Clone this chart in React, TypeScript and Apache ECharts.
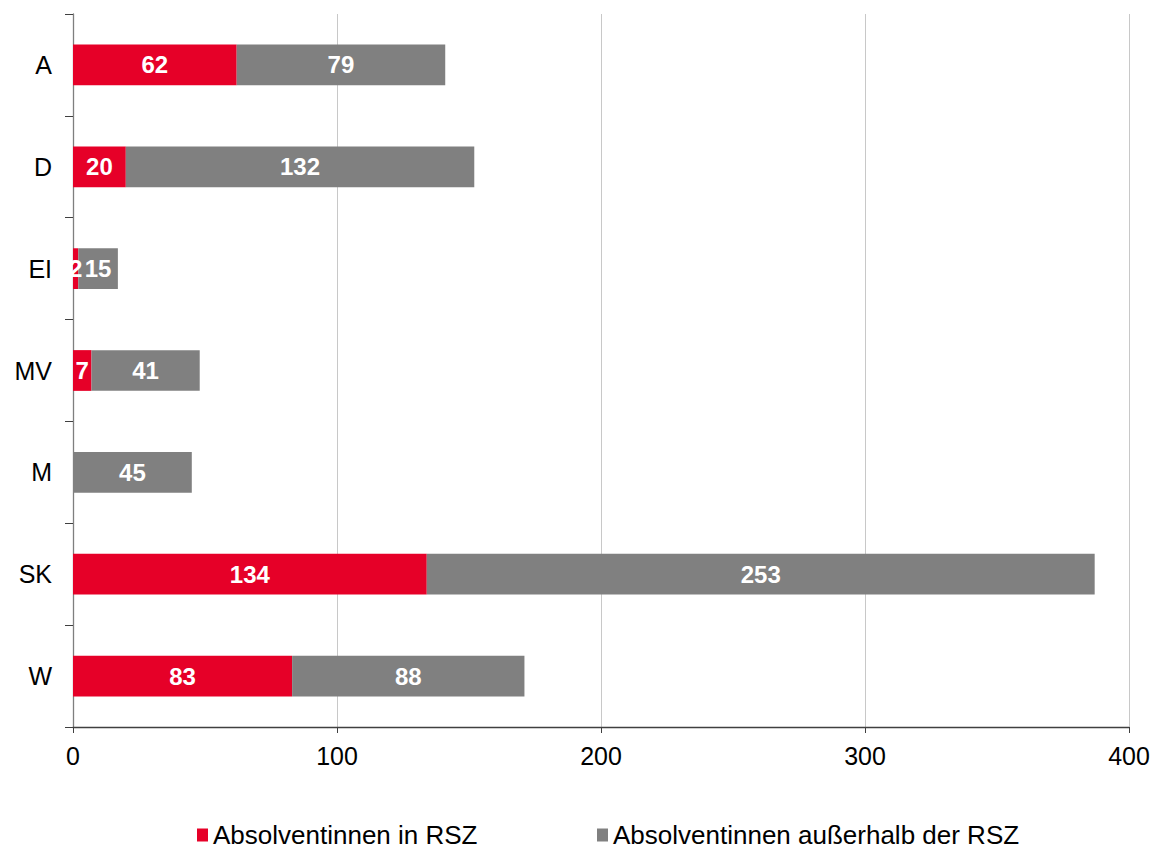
import React, { useEffect, useRef } from "react";
import * as echarts from "echarts";

const categories = ["A", "D", "EI", "MV", "M", "SK", "W"];
const inRSZ = [62, 20, 2, 7, 0, 134, 83];
const outsideRSZ = [79, 132, 15, 41, 45, 253, 88];
const xTicks = [0, 100, 200, 300, 400];
const seriesNames = ["Absolventinnen in RSZ", "Absolventinnen außerhalb der RSZ"];

export default function App() {
  const ref = useRef<HTMLDivElement>(null);
  useEffect(() => {
    document.body.style.margin = "0";
    const chart = echarts.init(ref.current!, null, { renderer: "svg" });
    const font = "Liberation Sans, Arial, sans-serif";
    const labelCfg = {
      show: true,
      position: "inside",
      color: "#ffffff",
      fontWeight: "bold",
      fontSize: 24,
      fontFamily: font,
      formatter: (p: any) => (p.value ? String(p.value) : ""),
    };
    const legendBase = {
      top: 822,
      padding: 0,
      itemWidth: 11,
      itemHeight: 13,
      icon: "rect",
      textStyle: { fontSize: 26, lineHeight: 26, color: "#000", fontFamily: font, padding: [0, 0, 0, 0] },
    };
    chart.setOption({
      animation: false,
      textStyle: { fontFamily: font },
      grid: { left: 73, right: 26, top: 14, bottom: 125 },
      legend: [
        { ...legendBase, left: 197, data: [seriesNames[0]] },
        { ...legendBase, left: 597, data: [seriesNames[1]] },
      ],
      xAxis: {
        type: "value",
        min: xTicks[0],
        max: xTicks[xTicks.length - 1],
        interval: 100,
        axisLine: { show: true, lineStyle: { color: "#404040", width: 1.3 } },
        axisTick: { show: true, length: 6, lineStyle: { color: "#404040" } },
        axisLabel: { fontSize: 25, color: "#000", margin: 16, fontFamily: font },
        splitLine: { show: true, lineStyle: { color: "#c8c8c8", width: 1 } },
      },
      yAxis: {
        type: "category",
        data: categories,
        inverse: true,
        axisLine: { show: true, lineStyle: { color: "#7f7f7f", width: 1.3 } },
        axisTick: { show: true, length: 8, alignWithLabel: false, lineStyle: { color: "#404040" } },
        axisLabel: { fontSize: 25, color: "#000", margin: 21, fontFamily: font },
      },
      series: [
        {
          name: seriesNames[0],
          type: "bar",
          stack: "total",
          data: inRSZ,
          barWidth: "40%",
          itemStyle: { color: "#e60028" },
          label: labelCfg,
        },
        {
          name: seriesNames[1],
          type: "bar",
          stack: "total",
          data: outsideRSZ,
          barWidth: "40%",
          itemStyle: { color: "#808080" },
          label: labelCfg,
        },
      ],
    });
    return () => chart.dispose();
  }, []);
  return <div ref={ref} style={{ position: "absolute", left: 0, top: 0, width: 1155, height: 852 }} />;
}
